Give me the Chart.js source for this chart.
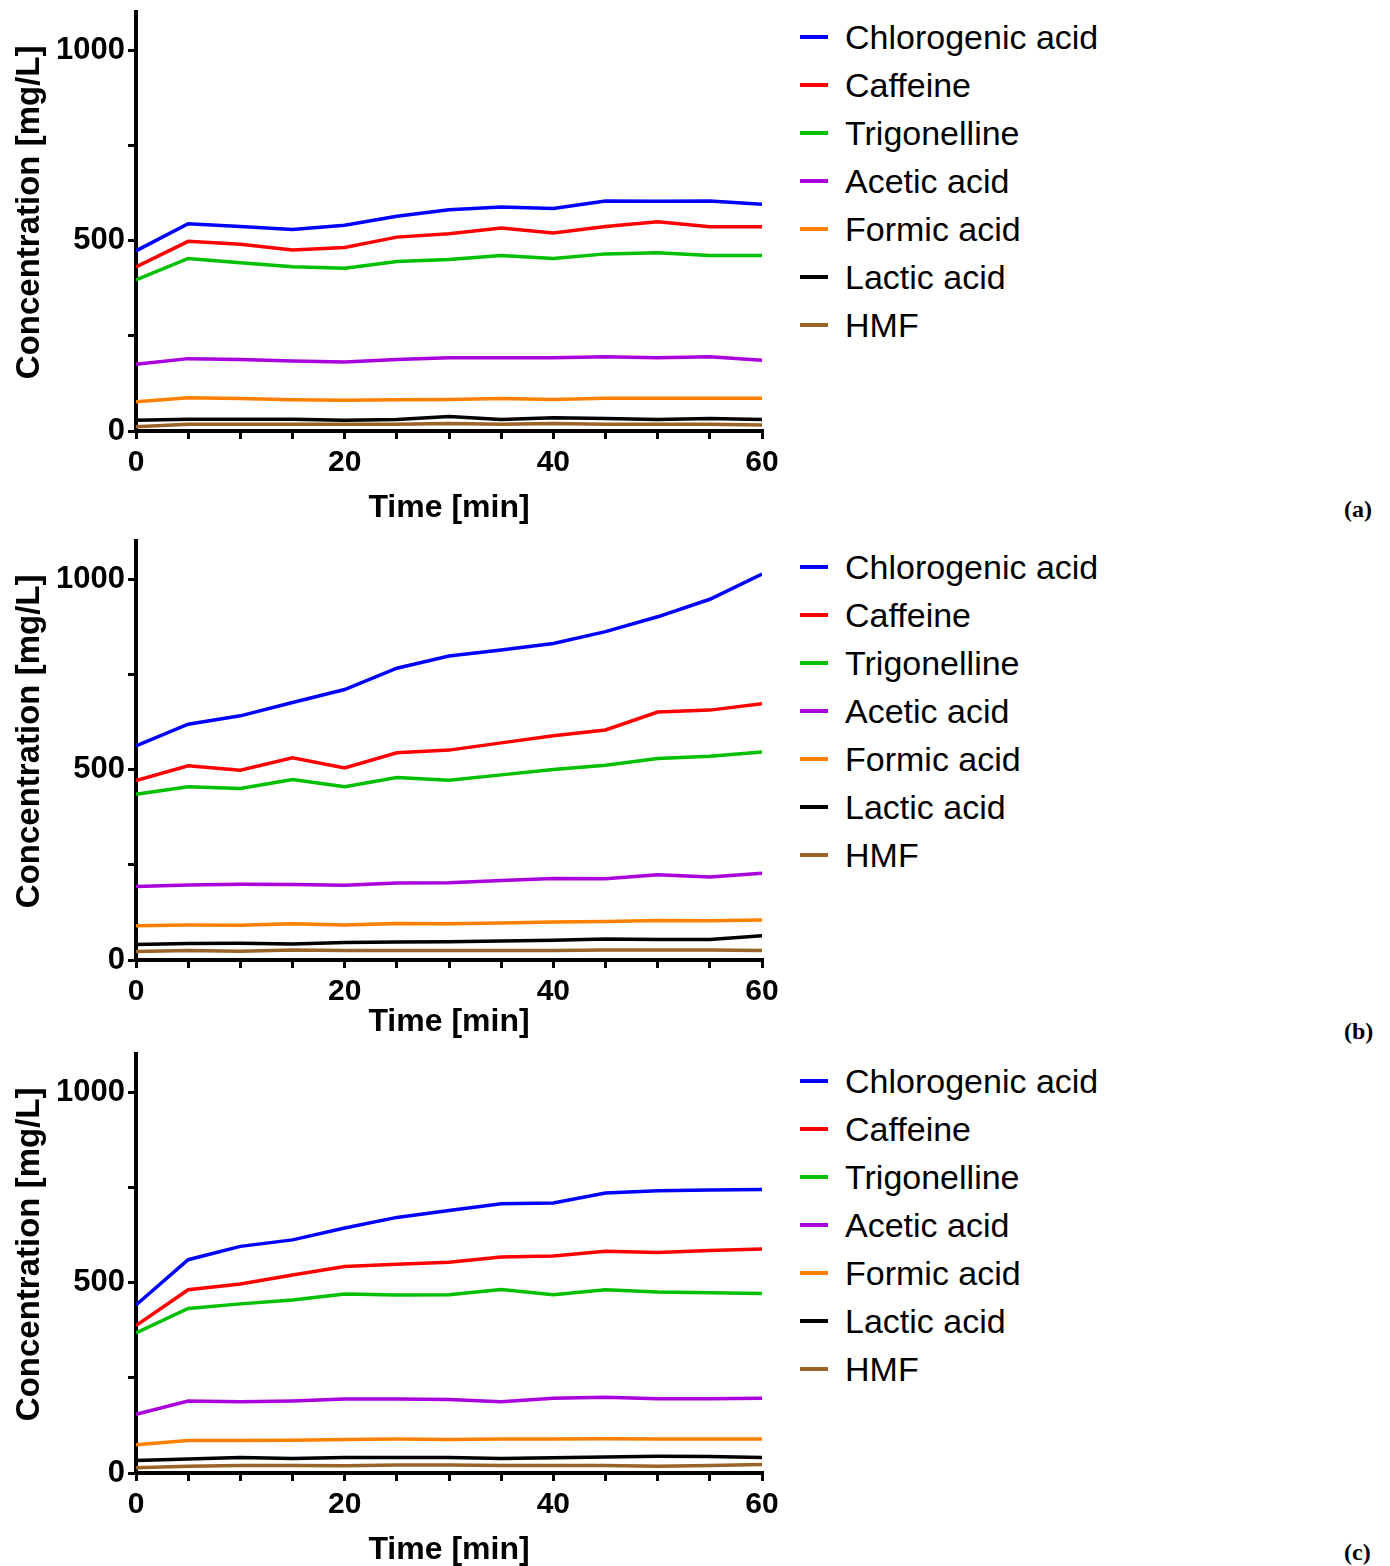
<!DOCTYPE html>
<html>
<head>
<meta charset="utf-8">
<script src="https://cdn.jsdelivr.net/npm/chart.js@4.4.0/dist/chart.umd.min.js"></script>
<style>
  body { margin: 0; background: #fff; width: 1390px; height: 1566px; position: relative; overflow: hidden;
         font-family: "Liberation Sans", Arial, sans-serif; }
  .panel { position: absolute; left: 0; width: 800px; height: 524px; }
  .legend { position: absolute; left: 800px; }
  .legend-row { height: 48px; display: flex; align-items: center; font-size: 34px; color: #000; white-space: nowrap; }
  .legend-swatch { width: 28px; height: 4px; margin-right: 17px; }
  .tag { position: absolute; font-family: "Liberation Serif", serif; font-weight: bold; font-size: 24px; color: #000; }
</style>
</head>
<body>
<canvas id="chart-a" class="panel" width="800" height="524" style="top:0px"></canvas>
<canvas id="chart-b" class="panel" width="800" height="524" style="top:529px"></canvas>
<canvas id="chart-c" class="panel" width="800" height="524" style="top:1042px"></canvas>
<div id="legend-a" class="legend" style="top:13px"></div>
<div id="legend-b" class="legend" style="top:543px"></div>
<div id="legend-c" class="legend" style="top:1057px"></div>
<div class="tag" style="left:1344px;top:496px">(a)</div>
<div class="tag" style="left:1344px;top:1018px">(b)</div>
<div class="tag" style="left:1344px;top:1539px">(c)</div>

<script>
// ============== Data ==============
const TIME_MIN = [0, 5, 10, 15, 20, 25, 30, 35, 40, 45, 50, 55, 60];
const COMPOUNDS = ["Chlorogenic acid", "Caffeine", "Trigonelline", "Acetic acid", "Formic acid", "Lactic acid", "HMF"];
const COLORS = ["#0000ff", "#ff0000", "#00c000", "#aa00dd", "#ff8000", "#000000", "#9a6428"];
const X_LABELLED = [0, 20, 40, 60];
const Y_LABELLED = [0, 500, 1000];

// panel (a)
const chlorogenicA = [473, 544, 537, 529, 540, 564, 581, 588, 584, 604, 603, 604, 595];
const caffeineA    = [431, 498, 490, 475, 482, 509, 518, 533, 520, 537, 549, 536, 536];
const trigonellA   = [397, 453, 442, 431, 427, 445, 450, 461, 453, 465, 468, 461, 461];
const aceticA      = [175, 190, 188, 184, 181, 188, 192, 192, 192, 195, 192, 195, 186];
const formicA      = [77, 87, 85, 82, 81, 82, 83, 85, 83, 86, 86, 86, 86];
const lacticA      = [28, 31, 31, 31, 28, 30, 38, 30, 35, 33, 30, 33, 30];
const hmfA         = [11, 18, 18, 18, 18, 18, 20, 18, 20, 18, 18, 18, 16];

// panel (b)
const chlorogenicB = [562, 619, 641, 676, 710, 766, 798, 814, 831, 862, 901, 947, 1013];
const caffeineB    = [471, 510, 498, 531, 504, 544, 551, 570, 589, 604, 651, 656, 673];
const trigonellB   = [435, 455, 450, 474, 455, 479, 472, 486, 500, 511, 529, 535, 546];
const aceticB      = [193, 197, 199, 198, 196, 202, 203, 209, 214, 213, 224, 218, 228];
const formicB      = [90, 92, 91, 95, 92, 96, 95, 97, 100, 101, 104, 103, 105];
const lacticB      = [41, 43, 44, 42, 46, 47, 48, 50, 52, 55, 54, 54, 64];
const hmfB         = [22, 25, 23, 26, 25, 25, 25, 25, 25, 26, 26, 26, 25];

// panel (c)
const chlorogenicC = [441, 560, 595, 612, 643, 671, 689, 707, 709, 735, 741, 743, 744];
const caffeineC    = [387, 481, 496, 520, 542, 548, 553, 567, 570, 582, 579, 584, 588];
const trigonellC   = [368, 432, 444, 454, 470, 467, 468, 482, 468, 481, 475, 473, 471];
const aceticC      = [154, 189, 187, 189, 194, 194, 193, 187, 196, 199, 195, 195, 196];
const formicC      = [74, 85, 85, 86, 88, 89, 88, 89, 89, 90, 89, 89, 89];
const lacticC      = [33, 37, 41, 38, 41, 41, 41, 38, 40, 42, 44, 43, 41];
const hmfC         = [14, 18, 20, 20, 19, 21, 21, 20, 20, 20, 18, 20, 22];

const FONT = "'Liberation Sans', Arial, sans-serif";

// ============== Charts ==============
function renderPanel(canvasId, series, titlePadBottom) {
  const ctx = document.getElementById(canvasId).getContext("2d");
  new Chart(ctx, {
    type: "line",
    data: {
      datasets: series.map((vals, i) => ({
        label: COMPOUNDS[i],
        data: TIME_MIN.map((t, k) => ({ x: t, y: vals[k] })),
        borderColor: COLORS[i],
        backgroundColor: COLORS[i],
        borderWidth: 3.5,
        pointRadius: 0,
        tension: 0,
        fill: false,
      })).reverse(),
    },
    options: {
      responsive: false,
      animation: false,
      layout: { padding: { left: 0, right: 38, top: 12, bottom: 0 } },
      plugins: { legend: { display: false }, tooltip: { enabled: false } },
      scales: {
        x: {
          type: "linear",
          min: 0,
          max: 60,
          border: { display: true, color: "#000", width: 4 },
          grid: { drawOnChartArea: false, drawTicks: true, tickLength: 8, lineWidth: 3, color: "#000" },
          ticks: {
            stepSize: 5,
            autoSkip: false,
            maxRotation: 0,
            padding: 6,
            color: "#000",
            font: { family: FONT, size: 30, weight: "bold" },
            callback: v => X_LABELLED.includes(v) ? String(v) : "",
          },
          title: {
            display: true,
            text: "Time [min]",
            color: "#000",
            font: { family: FONT, size: 32, weight: "bold", lineHeight: 1 },
            padding: { top: 0, bottom: titlePadBottom },
          },
          afterFit: s => { s.height = 93; s.paddingLeft = 0; s.paddingRight = 0; },
        },
        y: {
          min: 0,
          max: 1100,
          border: { display: true, color: "#000", width: 4 },
          grid: { drawOnChartArea: false, drawTicks: true, tickLength: 8, lineWidth: 3, color: "#000" },
          ticks: {
            stepSize: 250,
            includeBounds: false,
            autoSkip: false,
            padding: 3,
            color: "#000",
            font: { family: FONT, size: 31, weight: "bold" },
            callback: v => Y_LABELLED.includes(v) ? String(v) : "",
          },
          title: {
            display: true,
            // leading spaces nudge the rotated title up a little, like the original
            text: "\u00a0\u00a0Concentration [mg/L]",
            color: "#000",
            font: { family: FONT, size: 33, weight: "bold", lineHeight: 1 },
            padding: { top: 13, bottom: 0 },
          },
          afterFit: s => { s.width = 136; s.paddingTop = 0; s.paddingBottom = 0; },
        },
      },
    },
  });
}

function renderLegend(id) {
  document.getElementById(id).innerHTML = COMPOUNDS.map((name, i) => `
    <div class="legend-row">
      <span class="legend-swatch" style="background:${COLORS[i]}"></span>${name}
    </div>
  `).join("");
}

// ============== Boot ==============
renderPanel("chart-a", [chlorogenicA, caffeineA, trigonellA, aceticA, formicA, lacticA, hmfA], 0);
renderPanel("chart-b", [chlorogenicB, caffeineB, trigonellB, aceticB, formicB, lacticB, hmfB], 15);
renderPanel("chart-c", [chlorogenicC, caffeineC, trigonellC, aceticC, formicC, lacticC, hmfC], 0);
renderLegend("legend-a");
renderLegend("legend-b");
renderLegend("legend-c");
</script>
</body>
</html>
